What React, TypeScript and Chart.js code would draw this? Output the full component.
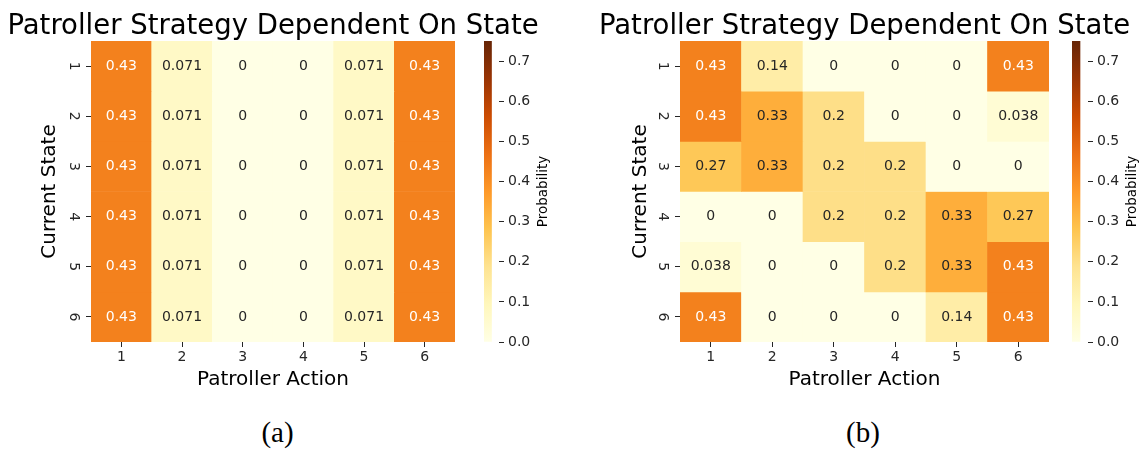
import React, { useEffect, useRef } from "react";
import { Chart, registerables } from "chart.js";

Chart.register(...registerables);

// ---------------- data ----------------
const actionLabels = ["1", "2", "3", "4", "5", "6"];
const stateValues = [1, 2, 3, 4, 5, 6];

// Panel (a): rows = current state 1..6, columns = patroller action 1..6
const panelA_state1 = [0.43, 0.071, 0, 0, 0.071, 0.43];
const panelA_state2 = [0.43, 0.071, 0, 0, 0.071, 0.43];
const panelA_state3 = [0.43, 0.071, 0, 0, 0.071, 0.43];
const panelA_state4 = [0.43, 0.071, 0, 0, 0.071, 0.43];
const panelA_state5 = [0.43, 0.071, 0, 0, 0.071, 0.43];
const panelA_state6 = [0.43, 0.071, 0, 0, 0.071, 0.43];

// Panel (b)
const panelB_state1 = [0.43, 0.14, 0, 0, 0, 0.43];
const panelB_state2 = [0.43, 0.33, 0.2, 0, 0, 0.038];
const panelB_state3 = [0.27, 0.33, 0.2, 0.2, 0, 0];
const panelB_state4 = [0, 0, 0.2, 0.2, 0.33, 0.27];
const panelB_state5 = [0.038, 0, 0, 0.2, 0.33, 0.43];
const panelB_state6 = [0.43, 0, 0, 0, 0.14, 0.43];

const colorbarTicks = [0, 0.1, 0.2, 0.3, 0.4, 0.5, 0.6, 0.7];
const colorMin = 0;
const colorMax = 0.75;

const titleText = "Patroller Strategy Dependent On State";
const xTitle = "Patroller Action";
const yTitle = "Current State";
const colorbarLabel = "Probability";
const captionA = "(a)";
const captionB = "(b)";

const panelA = [panelA_state1, panelA_state2, panelA_state3, panelA_state4, panelA_state5, panelA_state6];
const panelB = [panelB_state1, panelB_state2, panelB_state3, panelB_state4, panelB_state5, panelB_state6];

// ---------------- styling helpers ----------------
const FONT = "'DejaVu Sans', sans-serif";
const DARK = "#262626";

// matplotlib YlOrBr
const ylOrBr: [number, number, number][] = [
  [255, 255, 229],
  [255, 247, 188],
  [254, 227, 145],
  [254, 196, 79],
  [254, 153, 41],
  [236, 112, 20],
  [204, 76, 2],
  [153, 52, 4],
  [102, 37, 6],
];

function cmapRGB(t: number): [number, number, number] {
  const tt = Math.max(0, Math.min(1, t));
  const pos = tt * (ylOrBr.length - 1);
  const i = Math.min(ylOrBr.length - 2, Math.floor(pos));
  const f = pos - i;
  const a = ylOrBr[i];
  const b = ylOrBr[i + 1];
  return [a[0] + (b[0] - a[0]) * f, a[1] + (b[1] - a[1]) * f, a[2] + (b[2] - a[2]) * f];
}

function colorFor(v: number): string {
  const [r, g, b] = cmapRGB((v - colorMin) / (colorMax - colorMin));
  return `rgb(${Math.round(r)},${Math.round(g)},${Math.round(b)})`;
}

function textColorFor(v: number): string {
  const rgb = cmapRGB((v - colorMin) / (colorMax - colorMin)).map((c) => {
    const s = c / 255;
    return s <= 0.03928 ? s / 12.92 : Math.pow((s + 0.055) / 1.055, 2.4);
  });
  const lum = 0.2126 * rgb[0] + 0.7152 * rgb[1] + 0.0722 * rgb[2];
  return lum > 0.408 ? DARK : "#ffffff";
}

function fmt(v: number): string {
  return String(Number(v.toPrecision(2)));
}

// ---------------- heatmap ----------------
type HeatProps = {
  matrix: number[][];
  left: number;
  width: number;
  yAxisWidth: number;
  padRight: number;
};

const CANVAS_H = 400;
const PLOT_TOP = 41;
const X_AXIS_H = 58;

function Heatmap({ matrix, left, width, yAxisWidth, padRight }: HeatProps) {
  const ref = useRef<HTMLCanvasElement>(null);
  useEffect(() => {
    const annot = {
      id: "annot",
      afterDatasetsDraw(chart: any) {
        const ctx = chart.ctx;
        ctx.save();
        ctx.font = `14px ${FONT}`;
        ctx.textAlign = "center";
        ctx.textBaseline = "middle";
        matrix.forEach((row, ri) => {
          const meta = chart.getDatasetMeta(ri);
          row.forEach((v, ci) => {
            const el: any = meta.data[ci];
            const cx = el.x;
            const cy = (el.y + el.base) / 2;
            ctx.fillStyle = textColorFor(v);
            ctx.fillText(fmt(v), cx, cy);
          });
        });
        ctx.restore();
      },
    };
    const titlePlugin = {
      id: "paneltitle",
      afterDraw(chart: any) {
        const { ctx, chartArea } = chart;
        ctx.save();
        ctx.font = `27.5px ${FONT}`;
        ctx.fillStyle = "#000";
        ctx.textAlign = "center";
        ctx.textBaseline = "alphabetic";
        ctx.fillText(titleText, (chartArea.left + chartArea.right) / 2, 33.5);
        ctx.restore();
      },
    };
    const chart = new Chart(ref.current as HTMLCanvasElement, {
      type: "bar",
      data: {
        labels: actionLabels,
        datasets: matrix.map((row, ri) => ({
          label: `State ${stateValues[ri]}`,
          data: row.map(() => [stateValues[ri] - 0.5, stateValues[ri] + 0.5]),
          backgroundColor: row.map((v) => colorFor(v)),
          borderWidth: 0,
          grouped: false,
          barPercentage: 1,
          categoryPercentage: 1,
        })) as any,
      },
      options: {
        animation: false,
        responsive: false,
        maintainAspectRatio: false,
        layout: { padding: { left: 0, right: padRight, top: PLOT_TOP, bottom: 0 } },
        plugins: {
          legend: { display: false },
          tooltip: { enabled: false },
          title: { display: false },
        },
        scales: {
          x: {
            type: "category",
            offset: true,
            grid: {
              display: true,
              drawOnChartArea: false,
              drawTicks: true,
              tickLength: 5,
              offset: false,
              color: DARK,
              lineWidth: 1,
            },
            border: { display: false },
            ticks: {
              color: DARK,
              font: { family: FONT, size: 14 },
              padding: 2,
              maxRotation: 0,
              autoSkip: false,
            },
            title: {
              display: true,
              text: xTitle,
              color: "#000",
              font: { family: FONT, size: 20 },
              padding: { top: 0, bottom: 8.5 },
            },
            afterFit: (s: any) => {
              s.height = X_AXIS_H;
            },
          },
          y: {
            type: "linear",
            min: 0.5,
            max: 6.5,
            reverse: true,
            afterBuildTicks: (s: any) => {
              s.ticks = stateValues.map((v) => ({ value: v }));
            },
            grid: {
              display: true,
              drawOnChartArea: false,
              drawTicks: true,
              tickLength: 5,
              color: DARK,
              lineWidth: 1,
            },
            border: { display: false },
            ticks: {
              color: DARK,
              font: { family: FONT, size: 14 },
              padding: 8,
              minRotation: -90,
              crossAlign: "center",
              callback: (v: any) => String(v),
            },
            title: {
              display: true,
              text: yTitle,
              color: "#000",
              font: { family: FONT, size: 20 },
              padding: { top: 38, bottom: 0 },
            },
            afterFit: (s: any) => {
              s.width = yAxisWidth;
            },
          },
        } as any,
      },
      plugins: [annot, titlePlugin],
    });
    return () => chart.destroy();
  }, []);
  return (
    <canvas
      ref={ref}
      width={width}
      height={CANVAS_H}
      style={{ position: "absolute", left, top: 0, width, height: CANVAS_H }}
    />
  );
}

// ---------------- colorbar ----------------
type CbProps = { left: number; width: number; barOffset: number; barWidth: number };

function Colorbar({ left, width, barOffset, barWidth }: CbProps) {
  const ref = useRef<HTMLCanvasElement>(null);
  useEffect(() => {
    const labelPlugin = {
      id: "cblabel",
      afterDraw(chart: any) {
        const { ctx, chartArea } = chart;
        ctx.save();
        ctx.font = `13.5px ${FONT}`;
        ctx.fillStyle = "#000";
        ctx.textAlign = "center";
        ctx.textBaseline = "middle";
        ctx.translate(chartArea.right + 44, (chartArea.top + chartArea.bottom) / 2);
        ctx.rotate(-Math.PI / 2);
        ctx.fillText(colorbarLabel, 0, 0);
        ctx.restore();
      },
    };
    const chart = new Chart(ref.current as HTMLCanvasElement, {
      type: "bar",
      data: {
        labels: [""],
        datasets: [
          {
            data: [[colorMin, colorMax]] as any,
            backgroundColor: (c: any) => {
              const a = c.chart.chartArea;
              if (!a) return "transparent";
              const g = c.chart.ctx.createLinearGradient(0, a.bottom, 0, a.top);
              ylOrBr.forEach((rgb, i) => {
                g.addColorStop(i / (ylOrBr.length - 1), `rgb(${rgb[0]},${rgb[1]},${rgb[2]})`);
              });
              return g;
            },
            borderWidth: 0,
            barPercentage: 1,
            categoryPercentage: 1,
          },
        ],
      },
      options: {
        animation: false,
        responsive: false,
        maintainAspectRatio: false,
        layout: { padding: { left: barOffset, right: 0, top: PLOT_TOP, bottom: X_AXIS_H } },
        plugins: { legend: { display: false }, tooltip: { enabled: false }, title: { display: false } },
        scales: {
          x: { display: false, offset: false },
          y: {
            position: "right",
            min: colorMin,
            max: colorMax,
            afterBuildTicks: (s: any) => {
              s.ticks = colorbarTicks.map((v) => ({ value: v }));
            },
            grid: {
              display: true,
              drawOnChartArea: false,
              drawTicks: true,
              tickLength: 5,
              color: DARK,
              lineWidth: 1,
            },
            border: { display: false },
            ticks: {
              color: DARK,
              font: { family: FONT, size: 14 },
              padding: 4,
              callback: (v: any) => Number(v).toFixed(1),
            },
            afterFit: (s: any) => {
              s.width = width - barOffset - barWidth;
            },
          },
        } as any,
      },
      plugins: [labelPlugin],
    });
    return () => chart.destroy();
  }, []);
  return (
    <canvas
      ref={ref}
      width={width}
      height={CANVAS_H}
      style={{ position: "absolute", left, top: 0, width, height: CANVAS_H }}
    />
  );
}

function Caption({ text, cx, top }: { text: string; cx: number; top: number }) {
  return (
    <div
      style={{
        position: "absolute",
        left: cx - 50,
        top,
        width: 100,
        textAlign: "center",
        fontFamily: "'Liberation Serif', serif",
        fontSize: 29,
        lineHeight: "29px",
        color: "#000",
      }}
    >
      {text}
    </div>
  );
}

export default function App() {
  return (
    <div
      style={{
        position: "fixed",
        left: 0,
        top: 0,
        width: 1148,
        height: 451,
        background: "#fff",
        overflow: "hidden",
      }}
    >
      <Heatmap matrix={panelA} left={0} width={546} yAxisWidth={91} padRight={91} />
      <Colorbar left={474} width={100} barOffset={10} barWidth={15} />
      <Heatmap matrix={panelB} left={591} width={547} yAxisWidth={89} padRight={89} />
      <Colorbar left={1062} width={86} barOffset={10} barWidth={16} />
      <Caption text={captionA} cx={277.5} top={418} />
      <Caption text={captionB} cx={863} top={418} />
    </div>
  );
}
